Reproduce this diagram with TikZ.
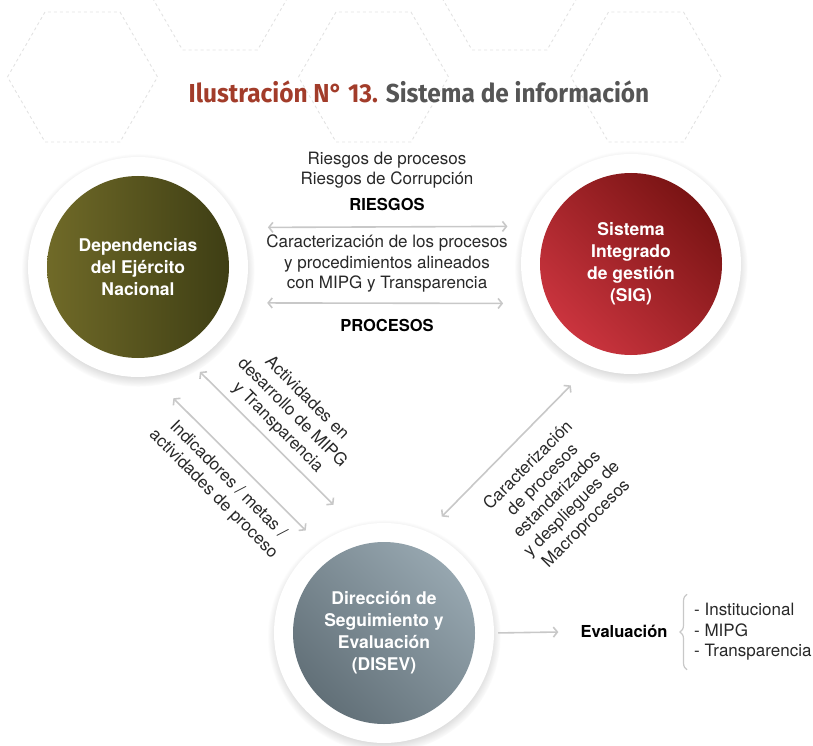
\documentclass[tikz,border=0pt]{standalone}
\usepackage{fontspec}
\setmainfont{TeX Gyre Heros}
\newfontfamily\titlefont[FakeStretch=0.94]{Fira Sans}
\usetikzlibrary{arrows.meta,positioning,shadows,decorations.pathreplacing}
\definecolor{titlered}{RGB}{162,60,42}
\definecolor{titlegray}{RGB}{85,85,85}
\definecolor{hexgray}{RGB}{226,226,226}
\definecolor{linkgray}{RGB}{200,200,200}
\definecolor{textgray}{RGB}{40,40,40}
\definecolor{oliveA}{RGB}{112,106,40}
\definecolor{oliveB}{RGB}{62,62,20}
\definecolor{redA}{RGB}{202,52,62}
\definecolor{redB}{RGB}{122,20,20}
\definecolor{slateA}{RGB}{150,166,175}
\definecolor{slateB}{RGB}{98,112,120}

\begin{document}
\begin{tikzpicture}[
  x=1pt, y=-1pt,
  ring/.style={circle, fill=white, minimum size=220pt, inner sep=0pt,
    circular drop shadow={shadow xshift=0pt, shadow yshift=-3pt,
      shadow scale=1.06, opacity=0.45}},
  core/.style={circle, minimum size=182pt, inner sep=0pt, align=center,
    text=white, font=\fontsize{17.5}{22}\selectfont\bfseries},
  info/.style={align=center, text=textgray, inner sep=0pt,
    font=\fontsize{17}{20.5}\selectfont},
  head/.style={inner sep=0pt, font=\fontsize{16.5}{20}\selectfont\bfseries},
  link/.style={{Straight Barb[length=4pt,width=10pt]}-{Straight Barb[length=4pt,width=10pt]},
    draw=linkgray, line width=1.6pt},
  hexline/.style={draw=hexgray, dashed, line width=0.9pt}
]
\useasboundingbox (0,0) rectangle (813,746);

% background hexagons
\begin{scope}
\clip (0,0) rectangle (813,746);
\foreach \hx/\hy in {82.5/77, 220/-15, 373.5/77, 509.5/-15, 646/77}
  \draw[hexline] (\hx-75,\hy) -- (\hx-37.5,\hy-65) -- (\hx+37.5,\hy-65)
    -- (\hx+75,\hy) -- (\hx+37.5,\hy+65) -- (\hx-37.5,\hy+65) -- cycle;
\end{scope}

\node[font=\titlefont\fontsize{26}{30}\selectfont\bfseries] (title) at (419,92)
  {\textcolor{titlered}{Ilustración N° 13.} \textcolor{titlegray}{Sistema de información}};

% circles
\node[ring] (depring) at (138,267) {};
\node[ring] (sigring) at (631,264) {};
\node[ring] (disevring) at (384,633) {};
\node[core, left color=oliveA, right color=oliveB] (dep) at (depring)
  {Dependencias\\del Ejército\\Nacional};
\node[core, top color=redB, bottom color=redA, shading angle=-45] (sig) at (sigring)
  {Sistema\\Integrado\\de gestión\\(SIG)};
\node[core, top color=slateA, bottom color=slateB, shading angle=-45] (disev) at (disevring)
  {Dirección de\\Seguimiento y\\Evaluación\\(DISEV)};

% texts between the circles
\node[info] (riesgos) at (387,170) {Riesgos de procesos\\Riesgos de Corrupción};
\node[head] (riesgoshead) at (387,204) {RIESGOS};
\node[info] (procdesc) at (387,264)
  {Caracterización de los procesos\\y procedimientos alineados\\con MIPG y Transparencia};
\node[head] (procesos) at (387,325) {PROCESOS};
\node[info, rotate=-45] (actlbl) at (292,413)
  {Actividades en\\desarrollo de MIPG\\y Transparencia};
\node[info, rotate=-45] (indlbl) at (220.5,487)
  {Indicadores / metas /\\actividades de proceso};
\node[info, rotate=45] (carlbl) at (557.5,495)
  {Caracterización\\de procesos\\estandarizados\\y despliegues de\\Macroprocesos};

\node[head, text=black] (eval) at (624,631) {Evaluación};
\node[info, align=left, anchor=west, inner ysep=9pt] (items) at (694,632)
  {- Institucional\\- MIPG\\- Transparencia};

% connectors
\draw[link, shorten <=27pt, shorten >=20pt] (depring.21) -- (sigring.160);
\draw[link, shorten <=25pt, shorten >=25pt] (depring.-19) -- (sigring.201);
\draw[link, shorten <=12pt, shorten >=31pt] (depring.-61) -- (disevring.105);
\draw[link, shorten <=31pt, shorten >=19pt] (depring.-83) -- (disevring.126);
\draw[link, shorten <=27pt, shorten >=21pt] (sigring.248) -- (disevring.67);
\draw[link, {-Straight Barb[length=4pt,width=10pt]}, shorten <=4pt, shorten >=22pt]
  (disevring.east) -- (eval);
\draw[draw=linkgray, line width=1.2pt, decorate, decoration={brace, amplitude=7pt}]
  ([xshift=-7pt]items.south west) -- ([xshift=-7pt]items.north west);
\end{tikzpicture}
\end{document}
